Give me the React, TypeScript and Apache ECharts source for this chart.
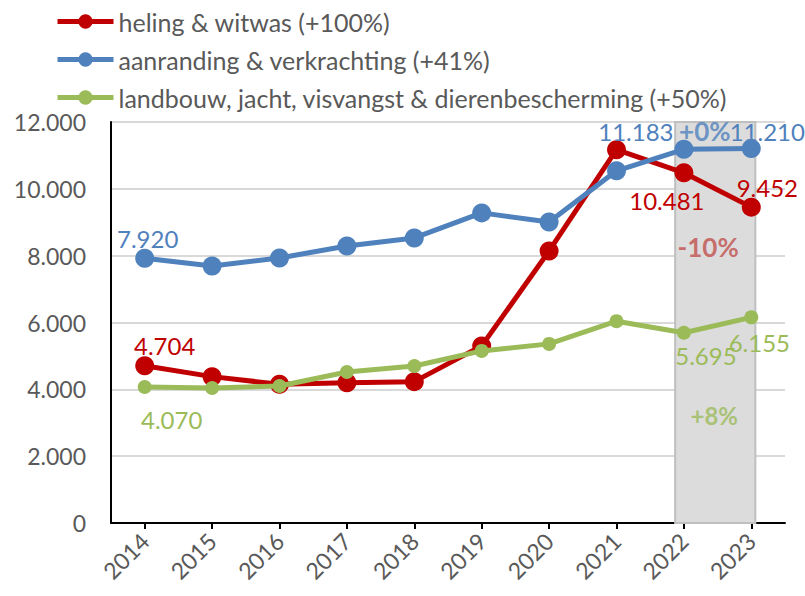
import React, { useEffect, useRef } from "react";
import * as echarts from "echarts";

const years = ["2014", "2015", "2016", "2017", "2018", "2019", "2020", "2021", "2022", "2023"];
const heling = [4704, 4380, 4150, 4200, 4230, 5300, 8140, 11170, 10481, 9452];
const aanranding = [7920, 7690, 7930, 8290, 8530, 9280, 9010, 10540, 11183, 11210];
const landbouw = [4070, 4040, 4100, 4520, 4700, 5150, 5360, 6040, 5695, 6155];
const seriesNames = [
  "heling & witwas (+100%)",
  "aanranding & verkrachting (+41%)",
  "landbouw, jacht, visvangst & dierenbescherming (+50%)",
];
const changeTexts = ["+0%", "-10%", "+8%"];
const yTicks = { min: 0, max: 12000, interval: 2000 };

const FONT = "Lato";
const RED = "#c00000";
const BLUE = "#4f81bd";
const GREEN = "#9bbb59";
const GREY_TEXT = "#595959";

const fmt = (v: number) => String(v).replace(/\B(?=(\d{3})+(?!\d))/g, ".");

function withLabels(values: number[], color: string, offsets: Record<number, [number, number]>) {
  return values.map((v, i) => {
    const off = offsets[i];
    if (!off) return v;
    return {
      value: v,
      label: {
        show: true,
        position: "inside",
        offset: off,
        color,
        fontSize: 24,
        fontFamily: FONT,
        formatter: (p: any) => fmt(p.value),
      },
    };
  });
}

export default function App() {
  const ref = useRef<HTMLDivElement>(null);
  useEffect(() => {
    if (!ref.current) return;
    const chart = echarts.init(ref.current, undefined, { renderer: "svg" });
    const option: any = {
      animation: false,
      backgroundColor: "#ffffff",
      textStyle: { fontFamily: FONT },
      legend: {
        orient: "vertical",
        left: 50,
        top: 4,
        itemWidth: 56,
        itemHeight: 18,
        itemGap: 13,
        lineStyle: { width: 5 },
        textStyle: { fontSize: 25, color: GREY_TEXT, fontFamily: FONT },
        data: seriesNames,
      },
      grid: { left: 111, right: 20, top: 122, bottom: 73, containLabel: false },
      xAxis: [
        {
          type: "category",
          data: years,
          boundaryGap: true,
          axisLine: { lineStyle: { color: "#000", width: 2 } },
          axisTick: { show: true, alignWithLabel: true, length: 6, lineStyle: { color: "#000", width: 2 } },
          axisLabel: { rotate: 45, color: GREY_TEXT, fontSize: 23, fontFamily: FONT, margin: 14 },
          splitLine: { show: false },
        },
        { type: "value", min: -0.5, max: 9.5, show: false },
      ],
      yAxis: {
        type: "value",
        min: yTicks.min,
        max: yTicks.max,
        interval: yTicks.interval,
        axisLine: { show: true, onZero: false, lineStyle: { color: "#000", width: 2 } },
        axisTick: { show: false },
        axisLabel: { color: GREY_TEXT, fontSize: 23, fontFamily: FONT, margin: 25, formatter: (v: number) => fmt(v) },
        splitLine: { lineStyle: { color: "#d9d9d9", width: 2 } },
      },
      series: [
        {
          type: "scatter",
          xAxisIndex: 1,
          z: 1,
          silent: true,
          symbolSize: 0,
          data: [
            { value: [8.31, 11730], label: { show: true, position: "inside", formatter: changeTexts[0], color: BLUE, fontSize: 26, fontWeight: "bold", fontFamily: FONT } },
            { value: [8.36, 8260], label: { show: true, position: "inside", formatter: changeTexts[1], color: "#c0504d", fontSize: 26, fontWeight: "bold", fontFamily: FONT } },
            { value: [8.45, 3230], label: { show: true, position: "inside", formatter: changeTexts[2], color: GREEN, fontSize: 24, fontWeight: "bold", fontFamily: FONT } },
          ],
          markArea: {
            silent: true,
            itemStyle: { color: "#dcdcdc", borderColor: "#bfbfbf", borderWidth: 2 },
            data: [[{ xAxis: 7.87, yAxis: 0 }, { xAxis: 9.06, yAxis: 12000 }]],
          },
        },
        {
          name: seriesNames[0],
          type: "line",
          z: 3,
          data: withLabels(heling, RED, { 0: [20, -20], 8: [-17, 28], 9: [16, -20] }),
          color: RED,
          lineStyle: { color: RED, width: 5 },
          itemStyle: { color: RED },
          symbol: "circle",
          symbolSize: 19,
        },
        {
          name: seriesNames[1],
          type: "line",
          z: 4,
          data: withLabels(aanranding, BLUE, { 0: [3, -20], 8: [-48, -18], 9: [16, -17] }),
          color: BLUE,
          lineStyle: { color: BLUE, width: 5 },
          itemStyle: { color: BLUE },
          symbol: "circle",
          symbolSize: 19,
        },
        {
          name: seriesNames[2],
          type: "line",
          z: 5,
          data: withLabels(landbouw, GREEN, { 0: [27, 33], 8: [22, 23], 9: [8, 25] }),
          color: GREEN,
          lineStyle: { color: GREEN, width: 5 },
          itemStyle: { color: GREEN },
          symbol: "circle",
          symbolSize: 14,
        },
      ],
    };
    chart.setOption(option);
    return () => chart.dispose();
  }, []);
  return (
    <div
      ref={ref}
      style={{ position: "absolute", left: 0, top: 0, width: 805, height: 596 }}
    />
  );
}
